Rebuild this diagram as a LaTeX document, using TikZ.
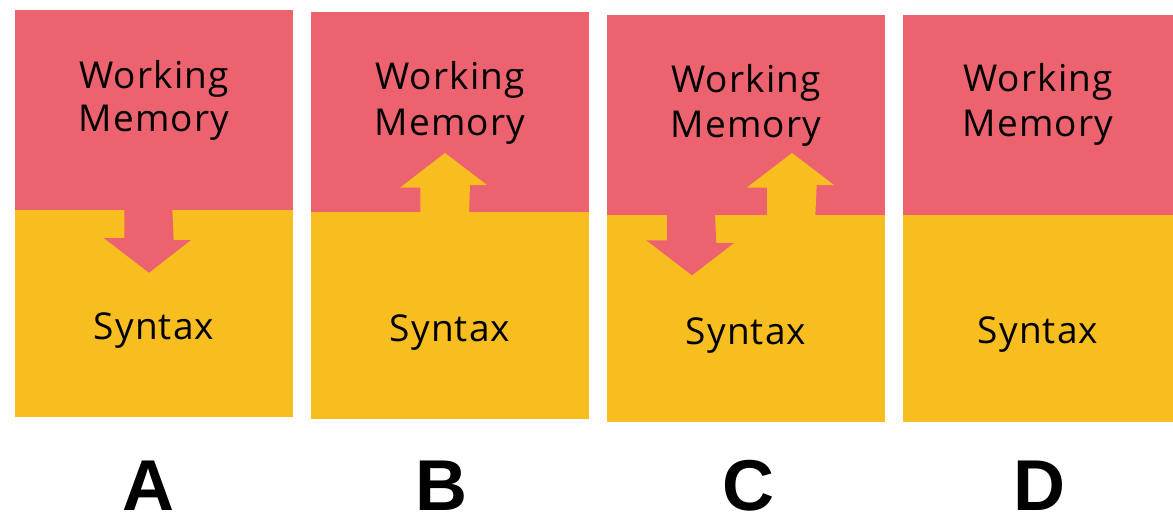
\documentclass[tikz,border=0pt]{standalone}
\usepackage{fontspec}
\setmainfont[LetterSpace=3]{Open Sans}
\newfontfamily\lblfont{Liberation Sans}
\definecolor{wmred}{RGB}{236,99,111}
\definecolor{synyellow}{RGB}{248,190,32}

\begin{document}
\begin{tikzpicture}[x=1pt, y=-1pt,
  txt/.style={anchor=base, inner sep=0pt, font=\fontsize{37}{44}\selectfont},
  lbl/.style={anchor=base, inner sep=0pt, font=\lblfont\bfseries\fontsize{72}{80}\selectfont}]
\useasboundingbox (0,0) rectangle (1173,522);

% panel A: memory pushes down
\fill[wmred] (15,10) rectangle (293,210);
\fill[synyellow] (15,210) rectangle (293,417);
\fill[wmred] (124.3,209) -- (124.3,238) -- (103.7,238) -- (149,272.7)
  -- (191,240) -- (173.7,240) -- (172.3,209) -- cycle;
\node[txt] (workA) at (154,88) {Working};
\node[txt] (memA) at (154,131) {Memory};
\node[txt] (synA) at (154,339) {Syntax};
\node[lbl] (labA) at (148.3,510) {A};

% panel B: syntax pushes up
\fill[wmred] (311,12) rectangle (589,212);
\fill[synyellow] (311,212) rectangle (589,419);
\fill[synyellow] (420.3,213) -- (420.3,187.7) -- (400,187.7) -- (445,153)
  -- (487,185) -- (470,185) -- (469,213) -- cycle;
\node[txt] (workB) at (450,89.3) {Working};
\node[txt] (memB) at (450,135) {Memory};
\node[txt] (synB) at (450,341.7) {Syntax};
\node[lbl] (labB) at (441.3,510) {B};

% panel C: both ways
\fill[wmred] (607,15) rectangle (885,215);
\fill[synyellow] (607,215) rectangle (885,422);
\fill[wmred] (667,214) -- (667,240.3) -- (646.3,240.3) -- (692,275.3)
  -- (734,243) -- (716.3,243) -- (715,214) -- cycle;
\fill[synyellow] (767,216) -- (767,187.7) -- (746.7,187.7) -- (792,153)
  -- (834,185) -- (816.7,185) -- (815.3,216) -- cycle;
\node[txt] (workC) at (746,92.3) {Working};
\node[txt] (memC) at (746,137.3) {Memory};
\node[txt] (synC) at (746,344) {Syntax};
\node[lbl] (labC) at (748.5,510) {C};

% panel D: no arrows
\fill[wmred] (903,15) rectangle (1173,215);
\fill[synyellow] (903,215) rectangle (1173,422);
\node[txt] (workD) at (1038,91.7) {Working};
\node[txt] (memD) at (1038,136.7) {Memory};
\node[txt] (synD) at (1038,343.3) {Syntax};
\node[lbl] (labD) at (1039,510) {D};
\end{tikzpicture}
\end{document}
